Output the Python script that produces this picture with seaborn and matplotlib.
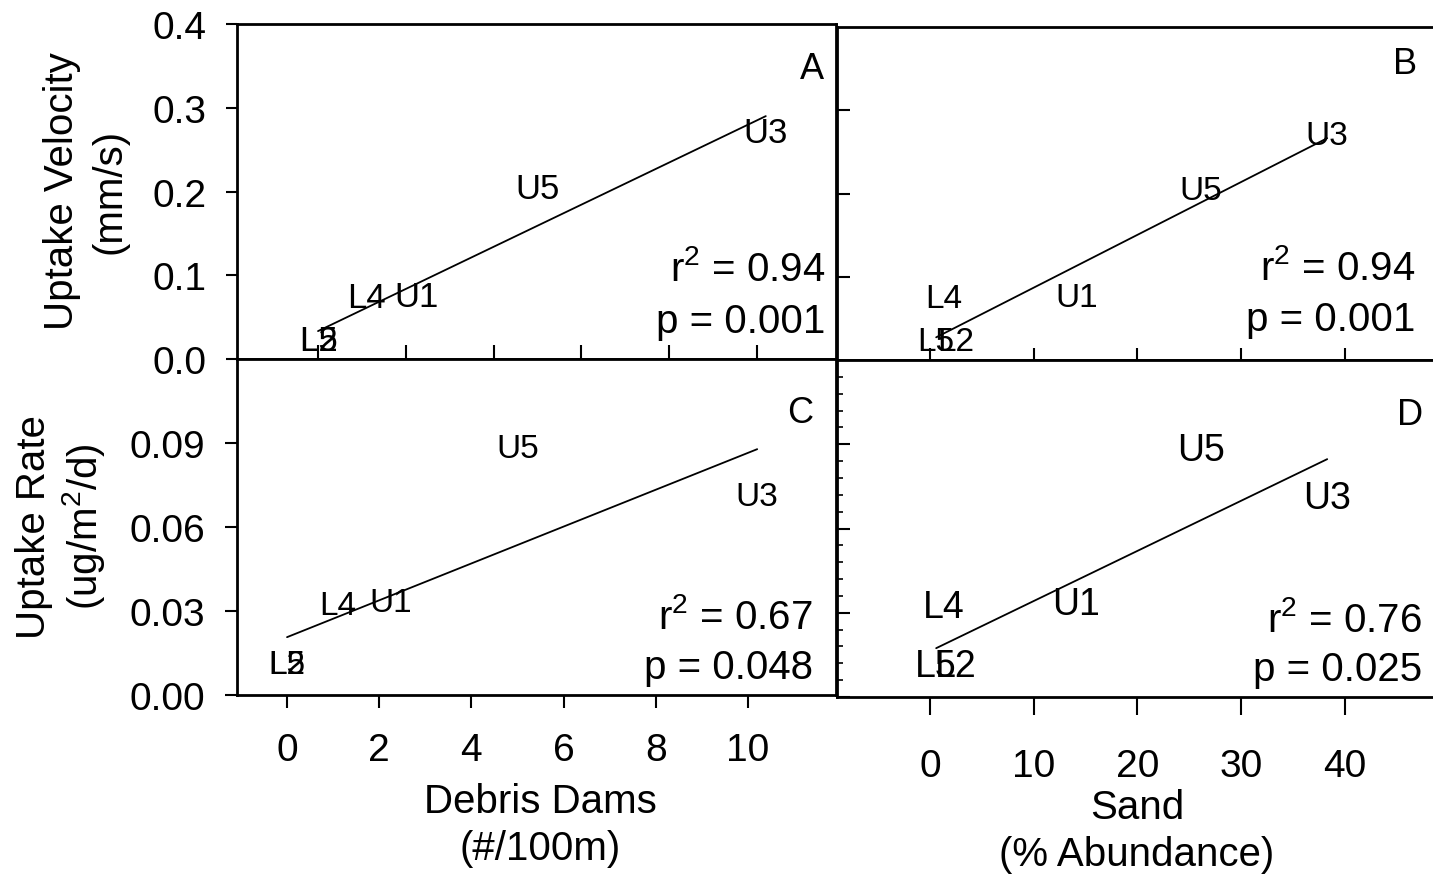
import numpy as np
import pandas as pd
import seaborn as sns
import matplotlib
matplotlib.use('Agg')
import matplotlib.pyplot as plt
from matplotlib.ticker import MultipleLocator

# site labels and values
sites = ['L2', 'L5', 'L4', 'U1', 'U5', 'U3']
debris_dams = [0.0, 0.0, 1.1, 2.25, 5.0, 10.2]        # #/100m
sand = [2.5, 0.6, 1.35, 14.1, 26.1, 38.3]             # % abundance
uptake_velocity = [0.022, 0.022, 0.074, 0.075, 0.204, 0.270]   # mm/s
uptake_rate = [0.011, 0.011, 0.032, 0.033, 0.088, 0.071]       # ug/m2/d

stats_text = {
    'A': ('0.94', '0.001'),
    'B': ('0.94', '0.001'),
    'C': ('0.67', '0.048'),
    'D': ('0.76', '0.025'),
}

df = pd.DataFrame({'site': sites, 'dams': debris_dams, 'sand': sand,
                   'velocity': uptake_velocity, 'rate': uptake_rate})

sns.set_style('white')
plt.rcParams['font.family'] = ['Liberation Sans', 'DejaVu Sans']
plt.rcParams['mathtext.fontset'] = 'custom'
plt.rcParams['mathtext.rm'] = 'Liberation Sans'
plt.rcParams['mathtext.it'] = 'Liberation Sans'
for key in ['text.color', 'axes.labelcolor', 'xtick.color', 'ytick.color', 'axes.edgecolor']:
    plt.rcParams[key] = 'black'

fig = plt.figure(figsize=(14.33, 8.79), dpi=100)
ax_a = fig.add_axes([0.1654, 0.5904, 0.4180, 0.3811])
ax_b = fig.add_axes([0.5841, 0.5893, 0.4159, 0.3788])
ax_c = fig.add_axes([0.1654, 0.2082, 0.4180, 0.3823])
ax_d = fig.add_axes([0.5841, 0.2059, 0.4159, 0.3834])

panels = [
    (ax_a, 'dams', 'velocity', 'A', 25),
    (ax_b, 'sand', 'velocity', 'B', 24),
    (ax_c, 'dams', 'rate', 'C', 24),
    (ax_d, 'sand', 'rate', 'D', 27),
]

for ax, xcol, ycol, letter, lsize in panels:
    sns.regplot(data=df, x=xcol, y=ycol, ax=ax, scatter=False, ci=None,
                line_kws=dict(color='black', lw=1.3))
    for _, row in df.iterrows():
        ax.text(row[xcol], row[ycol], row['site'], ha='center', va='center',
                fontsize=lsize, color='black')
    ax.set_xlabel('')
    ax.set_ylabel('')
    for s in ax.spines.values():
        s.set_color('black')
        s.set_linewidth(2)

# axis ranges
ax_a.set_xlim(-1.845, 11.80)
ax_c.set_xlim(-1.085, 11.91)
ax_b.set_xlim(-8.96, 48.5)
ax_d.set_xlim(-8.96, 48.5)
ax_a.set_ylim(0, 0.4)
ax_b.set_ylim(0, 0.4)
ax_c.set_ylim(0, 0.12)
ax_d.set_ylim(0, 0.12)

ax_b.spines['right'].set_visible(False)
ax_d.spines['right'].set_visible(False)

# ticks
ax_a.set_xticks(np.arange(0, 11, 2))
ax_a.set_yticks(np.arange(0, 0.41, 0.1))
ax_a.set_yticklabels(['0.0', '0.1', '0.2', '0.3', '0.4'])
ax_a.tick_params(axis='y', direction='out', length=8, width=1.5, labelsize=28, pad=14, left=True)
ax_a.tick_params(axis='x', direction='in', length=10, width=1.5, bottom=True, labelbottom=False)

ax_b.set_xticks(np.arange(0, 41, 10))
ax_b.set_yticks([0.1, 0.2, 0.3])
ax_b.tick_params(axis='both', direction='in', length=9, width=1.5,
                 bottom=True, left=True, labelbottom=False, labelleft=False)

ax_c.set_xticks(np.arange(0, 11, 2))
ax_c.set_yticks(np.arange(0, 0.091, 0.03))
ax_c.set_yticklabels(['0.00', '0.03', '0.06', '0.09'])
ax_c.tick_params(axis='both', direction='out', length=9, width=1.5, labelsize=28,
                 bottom=True, left=True)
ax_c.tick_params(axis='y', pad=14)
ax_c.tick_params(axis='x', pad=18)

ax_d.set_xticks(np.arange(0, 41, 10))
ax_d.set_yticks(np.arange(0, 0.091, 0.03))
ax_d.yaxis.set_minor_locator(MultipleLocator(0.006))
ax_d.tick_params(axis='y', which='major', direction='in', length=9, width=1.5,
                 left=True, labelleft=False)
ax_d.tick_params(axis='y', which='minor', direction='in', length=4, width=1.2, left=True)
ax_d.tick_params(axis='x', direction='out', length=13, width=1.5, labelsize=28, pad=24,
                 bottom=True)

# panel letters and fit statistics
letter_pos = {'A': (0.960, 0.866), 'B': (0.953, 0.889), 'C': (0.940, 0.842), 'D': (0.961, 0.837)}
stat_pos = {'A': (0.982, 0.269, 0.113), 'B': (0.970, 0.279, 0.123),
            'C': (0.962, 0.235, 0.083), 'D': (0.982, 0.231, 0.083)}
for ax, _, _, letter, _ in panels:
    lx, ly = letter_pos[letter]
    ax.text(lx, ly, letter, transform=ax.transAxes, ha='center', va='center', fontsize=26)
    r2, p = stats_text[letter]
    sx, ry, py = stat_pos[letter]
    ax.text(sx, ry, 'r$^{2}$ = ' + r2, transform=ax.transAxes, ha='right', va='center', fontsize=29)
    ax.text(sx, py, 'p = ' + p, transform=ax.transAxes, ha='right', va='center', fontsize=29)

# axis titles
fig.text(0.0600, 0.7827, 'Uptake Velocity\n(mm/s)', rotation=90, ha='center', va='center',
         multialignment='center', fontsize=29, linespacing=1.3)
fig.text(0.0426, 0.4005, 'Uptake Rate\n(ug/m$^{2}$/d)', rotation=90, ha='center', va='center',
         multialignment='center', fontsize=29, linespacing=1.2)
fig.text(0.3768, 0.0610, 'Debris Dams\n(#/100m)', ha='center', va='center',
         multialignment='center', fontsize=29, linespacing=1.3)
fig.text(0.7934, 0.0540, 'Sand\n(% Abundance)', ha='center', va='center',
         multialignment='center', fontsize=29, linespacing=1.3)

fig.savefig('out.png', dpi=100)
